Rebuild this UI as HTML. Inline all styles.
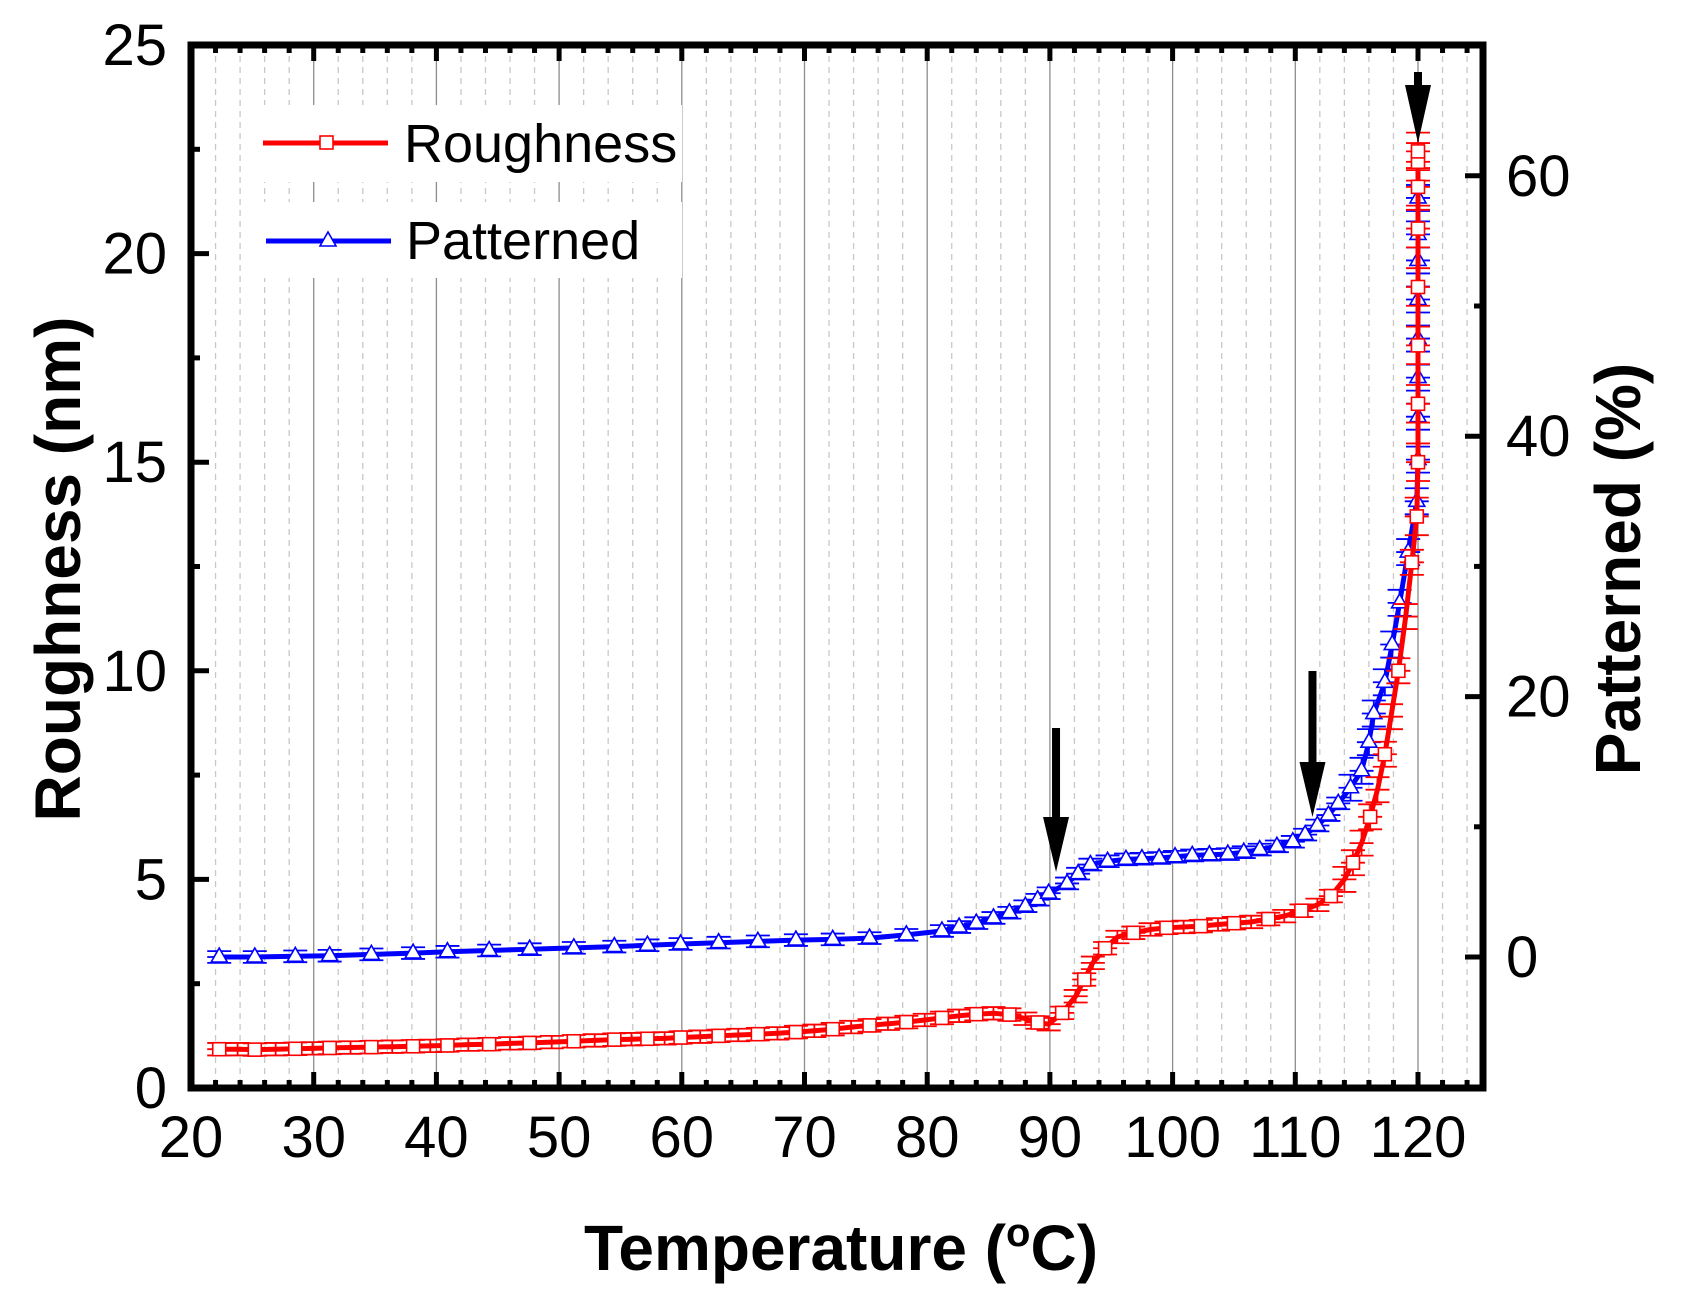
<!DOCTYPE html>
<html><head><meta charset="utf-8"><style>
html,body{margin:0;padding:0;background:#fff}
svg{display:block;font-family:"Liberation Sans",Arial,sans-serif}
</style></head><body>
<svg id="chart" width="1683" height="1305" viewBox="0 0 1683 1305"></svg>
<script>
const roughT=[22.3,23.8,25.2,26.9,28.5,29.9,31.3,33.0,34.7,36.4,38.1,39.5,40.9,42.6,44.3,46.0,47.6,49.4,51.2,52.9,54.5,55.9,57.2,58.6,59.9,61.5,63.0,64.6,66.2,67.8,69.3,70.8,72.3,73.8,75.3,76.8,78.3,79.8,81.2,82.6,84.0,85.4,86.7,88.0,89.0,89.9,91.0,92.1,92.8,93.5,94.5,95.5,96.8,98.2,99.5,100.9,102.3,103.7,105.0,106.4,107.8,109.1,110.5,111.8,112.9,114.0,114.7,115.4,116.1,116.7,117.3,117.8,118.4,119.0,119.5,119.9,120,120,120,120,120,120,120,120];
const roughV=[0.93,0.93,0.92,0.93,0.94,0.95,0.96,0.97,0.98,0.99,1.0,1.01,1.02,1.04,1.05,1.07,1.08,1.10,1.12,1.14,1.16,1.17,1.18,1.19,1.21,1.23,1.25,1.27,1.29,1.31,1.34,1.37,1.41,1.46,1.50,1.54,1.58,1.63,1.68,1.73,1.77,1.79,1.76,1.66,1.57,1.53,1.8,2.2,2.6,3.0,3.35,3.62,3.72,3.8,3.84,3.86,3.88,3.92,3.95,3.98,4.05,4.12,4.25,4.39,4.6,5.0,5.4,5.87,6.5,7.15,8.0,8.9,10.0,11.3,12.6,13.7,15.0,16.4,17.8,19.2,20.6,21.6,22.2,22.45];
const patT=[22.3,25.2,28.5,31.3,34.7,38.1,40.9,44.3,47.6,51.2,54.5,57.2,59.9,63.0,66.2,69.3,72.3,75.3,78.3,81.2,82.6,84.0,85.4,86.7,88.0,89.0,89.9,91.4,92.3,93.3,94.7,96.2,97.5,98.9,100.2,101.6,103.0,104.5,105.8,107.1,108.5,109.8,110.8,111.8,112.7,113.5,114.5,115.4,116.0,116.4,117.3,117.9,118.5,119.2,119.9,120,120,120,120,120,120,120,120];
const patV=[0.0,0.0,0.05,0.1,0.2,0.3,0.4,0.5,0.6,0.7,0.8,0.9,1.0,1.1,1.2,1.3,1.35,1.45,1.7,2.0,2.3,2.6,3.0,3.4,3.9,4.4,4.9,5.65,6.4,7.1,7.35,7.5,7.55,7.6,7.7,7.8,7.85,7.9,8.05,8.25,8.5,8.85,9.4,10.1,10.9,11.8,13.0,14.3,16.5,18.7,21.1,24.0,27.2,31.1,35.0,38.2,41.5,44.5,47.5,50.5,53.5,55.5,58.3];
const xTicks=[20,30,40,50,60,70,80,90,100,110,120];
const yTicks=[0,5,10,15,20,25];
const y2Ticks=[0,20,40,60];
const arrowT=[90.5,111.4,120];
const arrowTop=[728,671,72];
const arrowTip=[872,817,143];

const NS="http://www.w3.org/2000/svg";
const svg=document.getElementById('chart');
const L=191,R=1483,T=45,B=1088;
const X=t=>L+(t-20)*12.27;
const Y=v=>B-v*41.72;
const Y2=p=>957-p*13.02;
function mk(tag,attrs,parent){const e=document.createElementNS(NS,tag);for(const k in attrs)e.setAttribute(k,attrs[k]);(parent||svg).appendChild(e);return e;}

const grid=mk('g',{});


for(let t=22;t<=125;t+=2){
  if(t%10===0){const g=mk('line',{x1:X(t),x2:X(t),y1:T,y2:B,stroke:'#8c8c8c','stroke-width':1.3},grid);
    }
  else{const g=mk('line',{x1:X(t),x2:X(t),y1:T,y2:B,stroke:'#c8c8c8','stroke-width':1.3,'stroke-dasharray':'6,5'},grid);
    }
}
const lb1=mk('rect',{x:252,y:105,width:430,height:77,fill:'#fff'});


const lb2=mk('rect',{x:252,y:202,width:430,height:76,fill:'#fff'});



function series(ts,vs,yf,color,errFn,marker,name,step){
  const g=mk('g',{});
  
  
  ts.forEach((t,i)=>{
    const e=errFn(t,vs[i]);const x=X(t);
    const y1=yf(vs[i]-e),y2=yf(vs[i]+e),y=yf(vs[i]);
    const eb=mk('path',{d:`M${x},${y1}V${y2}M${x-12},${y1}H${x+12}M${x-12},${y2}H${x+12}M${x-12},${y}H${x+12}`,stroke:color,'stroke-width':1.8,fill:'none'},g);
    
    
  });
  const d=ts.map((t,i)=>(i?'L':'M')+X(t).toFixed(1)+','+yf(vs[i]).toFixed(1)).join('');
  const ln=mk('path',{d:d,stroke:color,'stroke-width':5,fill:'none','stroke-linejoin':'round'},g);
  
  
  ts.forEach((t,i)=>{
    if(i%step!==0 && t<119.5) return;
    const x=X(t),y=yf(vs[i]);let m;
    if(marker==='square') m=mk('rect',{x:x-6.5,y:y-6.5,width:13,height:13,fill:'#fff',stroke:color,'stroke-width':1.6},g);
    else m=mk('path',{d:`M${x},${y-9}L${x+8},${y+5}L${x-8},${y+5}Z`,fill:'#fff',stroke:color,'stroke-width':1.6},g);
    
    
  });
}
series(patT,patV,Y2,'#0000ff',(t,v)=>t>=114?1.0:0.45,'triangle','patterned',1);
series(roughT,roughV,Y,'#ff0000',(t,v)=>t>=119.9?0.45:(t>=113?0.3:0.15),'square','roughness',2);

const fr=mk('rect',{x:L,y:T,width:R-L,height:B-T,fill:'none',stroke:'#000','stroke-width':7});


for(let t=22;t<=124;t+=2){
  const len=t%10===0?16:8;
  mk('line',{x1:X(t),x2:X(t),y1:B,y2:B-len,stroke:'#000','stroke-width':5});
  mk('line',{x1:X(t),x2:X(t),y1:T,y2:T+len,stroke:'#000','stroke-width':5});
}
xTicks.forEach(t=>{
  const tx=mk('text',{x:X(t),y:1157,'font-size':58,'text-anchor':'middle',fill:'#000'});
  tx.textContent=t;
  
  
});
for(let v=2.5;v<25;v+=2.5){
  const len=(v%5===0)?18:9;
  mk('line',{x1:L,x2:L+len,y1:Y(v),y2:Y(v),stroke:'#000','stroke-width':5});
}
yTicks.forEach(v=>{
  const tx=mk('text',{x:167,y:Y(v)+20,'font-size':58,'text-anchor':'end',fill:'#000'});
  tx.textContent=v;
  
  
});
for(let p=0;p<=70;p+=10){
  const len=(p%20===0)?18:9;
  mk('line',{x1:R,x2:R-len,y1:Y2(p),y2:Y2(p),stroke:'#000','stroke-width':5});
}
y2Ticks.forEach(p=>{
  const tx=mk('text',{x:1506,y:Y2(p)+20,'font-size':58,'text-anchor':'start',fill:'#000'});
  tx.textContent=p;
  
  
});
arrowT.forEach((t,i)=>{
  const x=X(t),top=arrowTop[i],tip=arrowTip[i],hl=(tip-top)>100?55:58;
  const hb=tip-hl;
  const a=mk('path',{d:`M${x-4},${top}H${x+4}V${hb}H${x+13}L${x},${tip}L${x-13},${hb}H${x-4}Z`,fill:'#000'});
  
  
});
</script>
<script>
(function(){
const svg=document.getElementById('chart');
svg.insertAdjacentHTML('beforeend',`<g>
<g>
<line x1="263" x2="388" y1="143" y2="143" stroke="#ff0000" stroke-width="5"/>
<rect x="320" y="136" width="13" height="13" fill="#fff" stroke="#ff0000" stroke-width="1.6"/>
<text x="404" y="162" font-size="54" fill="#000">Roughness</text></g>
<g>
<line x1="266" x2="391" y1="241" y2="241" stroke="#0000ff" stroke-width="5"/>
<path d="M328,232L336,246L320,246Z" fill="#fff" stroke="#0000ff" stroke-width="1.6"/>
<text x="406" y="259" font-size="54" fill="#000">Patterned</text></g></g>
<text x="841" y="1270" font-size="64" font-weight="bold" text-anchor="middle" fill="#000">Temperature (<tspan font-size="40" dy="-24">o</tspan><tspan dy="24">C)</tspan></text>
<text transform="translate(80,569) rotate(-90)" font-size="64" font-weight="bold" text-anchor="middle" fill="#000">Roughness (nm)</text>
<text transform="translate(1640,569) rotate(-90)" font-size="64" font-weight="bold" text-anchor="middle" fill="#000">Patterned (%)</text>`);
})();
</script>
</body></html>
